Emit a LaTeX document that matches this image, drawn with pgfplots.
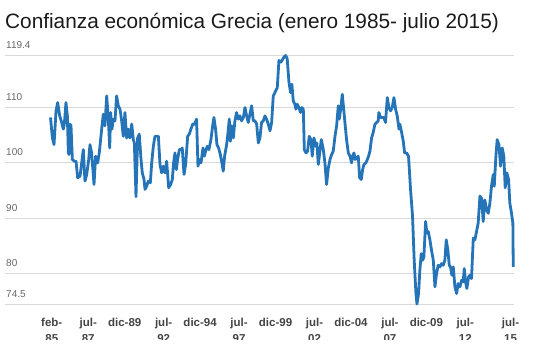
\documentclass[border=0pt]{standalone}
\usepackage{pgfplots}
\pgfplotsset{compat=1.18}
\usepackage{fontspec}
\setmainfont{Liberation Sans}
\definecolor{lineblue}{RGB}{38,116,184}
\definecolor{gridgray}{RGB}{217,217,217}
\definecolor{ylab}{RGB}{102,102,102}
\definecolor{xlab}{RGB}{68,68,68}
\definecolor{titlec}{RGB}{26,26,26}
\begin{document}
\begin{tikzpicture}
\path[use as bounding box] (-5pt,-58pt) rectangle (528pt,304pt);
\begin{axis}[
  at={(0,0)}, anchor=south west,
  scale only axis, width=508.5pt, height=248.5pt,
  xmin=-36.2, xmax=368.3, ymin=74.5, ymax=119.4,
  axis line style={draw=none},
  ytick={74.5,80,90,100,110,119.4},
  yticklabels={74.5,80,90,100,110,119.4},
  ymajorgrids, grid style={gridgray, line width=0.8pt},
  major tick length=0pt,
  yticklabel style={anchor=south west, inner sep=0pt, xshift=1pt, yshift=6.7pt, font=\fontsize{10}{12}\selectfont, text=ylab},
  xtick={1,30,59,90,119,150,179,210,239,270,299,330,366},
  xticklabels={feb-\\85, jul-\\87, dic-89, jul-\\92, dic-94, jul-\\97, dic-99, jul-\\02, dic-04, jul-\\07, dic-09, jul-\\12, jul-\\15},
  xticklabel style={anchor=north, inner sep=0pt, yshift=-13.8pt, align=center, font=\bfseries\fontsize{11.5}{16.5}\selectfont, text=xlab},
  clip=false,
]
\addplot[lineblue, line width=2.8pt, line join=round, no marks] coordinates {
(0,108.2)(1.5,104.5)(2.8,103.3)(4.4,109.4)(5.7,110.9)(7.3,108.5)(8.9,107.3)(10.2,106.1)(11,107.0)(12.3,110.9)(13.4,108.5)(14.2,101.8)(14.7,101.5)(15.5,107.0)(16.3,106.7)(17.4,100.6)(19.0,100.3)(20.3,100.3)(21.6,97.3)(23.5,97.6)(24.8,100)(26.1,102.4)(27.4,96.7)(28.8,97.9)(30.4,100.6)(31.4,103.3)(32.7,101.8)(34.6,96.1)(35.9,101.2)(37.5,100)(38.8,101.8)(40.7,106.1)(42.0,108.8)(43.3,106.7)(44.7,112.1)(46.0,107.9)(47.1,102.7)(47.8,109.1)(48.9,106.1)(50.0,107.9)(51.3,107.6)(52.6,112.1)(53.9,110.3)(55.3,109.7)(56.6,107.6)(57.9,104.8)(59.2,109.1)(60.6,104.5)(61.9,106.1)(63.2,104.5)(64.6,107.0)(65.9,104.2)(66.7,103.6)(68.0,93.9)(69.3,104.5)(70.6,105.2)(72.0,100.6)(73.0,98.2)(74.4,97.0)(75.2,95.2)(76.5,95.8)(77.8,96.7)(79.4,96.4)(80.5,100)(81.8,103.0)(83.1,104.8)(84.7,104.8)(85.8,104.8)(87.1,99.7)(88.4,98.2)(89.7,99.4)(91.1,98.2)(92.4,100.3)(94.0,95.5)(95.6,96.1)(96.9,97.0)(97.9,100)(99.0,101.8)(100.1,98.8)(101.1,100.6)(102.5,102.4)(103.8,102.4)(104.8,102.7)(106.2,97.9)(107.5,99.7)(109.1,104.8)(110.4,105.2)(111.7,106.1)(113.1,107.0)(114.6,107.0)(116.2,107.9)(117.3,99.4)(118.4,100.6)(119.7,100)(121.3,102.7)(122.3,101.2)(123.4,102.1)(124.7,103.0)(126.0,102.4)(127.6,104.2)(129.0,106.7)(130.0,108.2)(131.3,106.1)(132.4,103.3)(133.7,102.7)(135.1,101.5)(136.1,100.3)(137.4,98.5)(138.5,101.2)(140.1,103.3)(141.2,105.5)(142.2,107.9)(143.0,103.9)(144.1,106.7)(145.4,104.5)(146.7,107.6)(148.0,109.1)(149.4,107.9)(150.7,108.5)(152.0,107.6)(153.4,108.2)(154.7,110)(156.0,108.5)(157.3,107.3)(158.9,109.1)(160.0,110.3)(161.3,107.6)(162.6,107.6)(164.0,107.0)(165.3,103.6)(166.6,104.5)(167.9,107.3)(169.3,107.6)(170.6,108.5)(171.9,107.9)(173.2,107.0)(174.6,105.8)(175.9,107.3)(177.2,112.1)(178.5,112.7)(180.4,113.6)(181.7,118.5)(183.3,118.2)(185.7,119.1)(187.0,119.4)(188.3,118.8)(189.7,114.5)(191.0,112.7)(192.0,114.2)(193.1,111.2)(194.4,110.6)(195.2,109.7)(196.3,110.6)(197.6,110)(198.9,109.1)(200.0,110)(201.1,109.7)(201.9,102.4)(203.2,101.8)(204.5,102.1)(205.8,104.8)(207.2,104.2)(208.2,101.2)(209.6,104.5)(210.9,103.0)(211.9,103.6)(213.0,99.7)(214.3,102.1)(215.4,104.2)(217.0,102.4)(218.3,100)(219.6,96.1)(221.0,99.1)(222.3,100.6)(223.6,101.5)(224.9,102.1)(226.3,104.8)(227.6,106.7)(228.9,110.3)(229.7,107.9)(231.0,110)(232.1,112.4)(233.1,110)(234.2,107.3)(235.5,104.2)(236.9,101.8)(238.2,101.2)(239.5,100)(240.3,101.2)(241.4,101.8)(242.4,100.6)(243.5,100.9)(244.8,101.2)(245.9,97.3)(247.2,97.0)(248.3,98.8)(249.3,99.7)(250.9,100)(252.0,100.6)(253.0,101.2)(254.1,102.1)(255.4,104.5)(256.7,105.5)(258.1,107.0)(259.4,107.3)(260.7,107.6)(261.2,109.1)(262.6,108.2)(263.6,108.2)(265.2,108.2)(266.5,107.3)(267.9,111.8)(269.2,110)(270.5,109.4)(271.8,110)(273.2,111.8)(274.5,109.7)(275.8,108.5)(277.2,106.1)(277.9,107.0)(279.3,105.5)(280.6,103.9)(281.7,101.8)(283.2,101.8)(284.8,101.2)(286.4,95.2)(288.0,90.3)(289.3,82.4)(290.7,76.4)(291.5,74.5)(292.8,76.4)(293.8,80.6)(294.9,83.6)(296.0,82.4)(297.0,83.0)(298.4,89.4)(299.4,87.3)(300.5,87.6)(301.8,86.1)(303.1,84.2)(304.5,82.4)(305.8,77.6)(307.1,80.0)(308.4,81.5)(309.8,81.2)(311.1,81.8)(312.4,81.5)(313.7,82.4)(314.8,86.1)(316.1,84.2)(317.2,81.5)(318.2,81.2)(319.3,79.7)(320.4,81.2)(321.7,77.6)(323.0,76.4)(324.3,78.2)(325.7,77.6)(327.0,78.8)(328.3,78.5)(329.1,80.9)(330.4,78.2)(331.2,77.3)(332.6,79.4)(333.6,79.7)(334.9,79.1)(336.3,86.4)(337.6,86.1)(338.9,87.6)(340.2,89.1)(341.6,94.0)(342.9,93.6)(344.2,89.4)(345.5,93.3)(346.9,91.5)(348.2,90.9)(349.5,92.7)(350.8,95.8)(352.2,97.9)(353.0,95.8)(354.3,101.2)(355.3,104.2)(356.7,103.3)(358.0,99.4)(359.3,102.7)(360.6,101.2)(361.7,95.5)(363.0,98.2)(364.4,97.0)(365.4,92.7)(366.7,90.9)(367.8,89.1)(368.1,81.2)
};
\end{axis}
\fill[white] (-5pt,-58pt) rectangle (528pt,-35.5pt);
\node[anchor=base west, inner sep=0pt, font=\fontsize{20.8}{25}\selectfont, text=titlec] at (0pt,275.7pt) {Confianza económica Grecia (enero 1985- julio 2015)};
\end{tikzpicture}
\end{document}
